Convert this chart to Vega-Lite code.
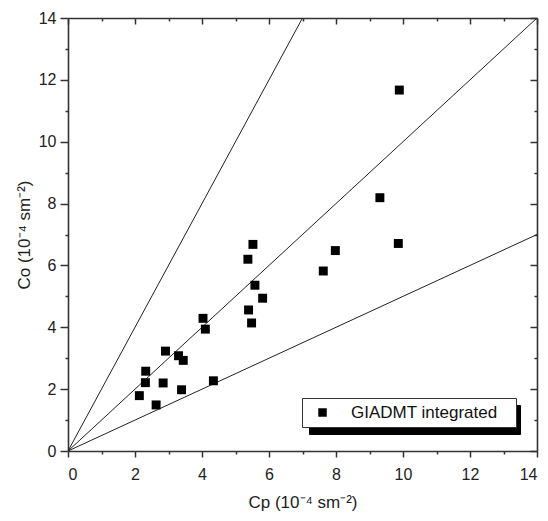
{
  "$schema": "https://vega.github.io/schema/vega-lite/v6.json",
  "width": 469,
  "height": 433,
  "autosize": {"type": "none"},
  "padding": {"left": 68, "top": 18, "right": 11, "bottom": 70},
  "background": "white",
  "config": {
    "view": {"stroke": null},
    "font": "Liberation Sans",
    "axis": {
      "grid": false,
      "domainColor": "#333333",
      "domainWidth": 1.6,
      "tickColor": "#333333",
      "tickWidth": 1.5,
      "labelFont": "Liberation Sans",
      "titleFont": "Liberation Sans",
      "labelFontSize": 16,
      "titleFontSize": 17,
      "titleFontWeight": "normal",
      "labelColor": "#222222",
      "titleColor": "#222222"
    }
  },
  "datasets": {
    "points": [
      {"cp": 2.13, "co": 1.79, "series": "GIADMT integrated"},
      {"cp": 2.31, "co": 2.21, "series": "GIADMT integrated"},
      {"cp": 2.32, "co": 2.58, "series": "GIADMT integrated"},
      {"cp": 2.63, "co": 1.49, "series": "GIADMT integrated"},
      {"cp": 2.84, "co": 2.2, "series": "GIADMT integrated"},
      {"cp": 2.91, "co": 3.23, "series": "GIADMT integrated"},
      {"cp": 3.3, "co": 3.08, "series": "GIADMT integrated"},
      {"cp": 3.44, "co": 2.93, "series": "GIADMT integrated"},
      {"cp": 3.39, "co": 1.98, "series": "GIADMT integrated"},
      {"cp": 4.03, "co": 4.29, "series": "GIADMT integrated"},
      {"cp": 4.1, "co": 3.94, "series": "GIADMT integrated"},
      {"cp": 4.34, "co": 2.27, "series": "GIADMT integrated"},
      {"cp": 5.52, "co": 6.68, "series": "GIADMT integrated"},
      {"cp": 5.37, "co": 6.2, "series": "GIADMT integrated"},
      {"cp": 5.58, "co": 5.36, "series": "GIADMT integrated"},
      {"cp": 5.81, "co": 4.94, "series": "GIADMT integrated"},
      {"cp": 5.39, "co": 4.56, "series": "GIADMT integrated"},
      {"cp": 5.48, "co": 4.14, "series": "GIADMT integrated"},
      {"cp": 7.98, "co": 6.48, "series": "GIADMT integrated"},
      {"cp": 7.62, "co": 5.82, "series": "GIADMT integrated"},
      {"cp": 9.31, "co": 8.19, "series": "GIADMT integrated"},
      {"cp": 9.86, "co": 6.71, "series": "GIADMT integrated"},
      {"cp": 9.89, "co": 11.67, "series": "GIADMT integrated"}
    ],
    "lines": [
      {"line": "2x", "cp": 0, "co": 0},
      {"line": "2x", "cp": 7, "co": 14},
      {"line": "1x", "cp": 0, "co": 0},
      {"line": "1x", "cp": 14, "co": 14},
      {"line": "0.5x", "cp": 0, "co": 0},
      {"line": "0.5x", "cp": 14, "co": 7}
    ]
  },
  "layer": [
    {
      "data": {"name": "lines"},
      "mark": {"type": "line", "color": "#222222", "strokeWidth": 1, "clip": true},
      "encoding": {
        "x": {
          "field": "cp", "type": "quantitative",
          "scale": {"domain": [0, 14], "nice": false},
          "axis": {
            "orient": "top", "title": null, "labels": false,
            "values": [0,1,2,3,4,5,6,7,8,9,10,11,12,13,14],
            "tickSize": {"condition": {"test": "datum.value % 2 === 0", "value": -6}, "value": -3}
          }
        },
        "y": {
          "field": "co", "type": "quantitative",
          "scale": {"domain": [0, 14], "nice": false},
          "axis": {
            "orient": "right", "title": null, "labels": false,
            "values": [0,1,2,3,4,5,6,7,8,9,10,11,12,13,14],
            "tickSize": {"condition": {"test": "datum.value % 2 === 0", "value": -7}, "value": -3}
          }
        },
        "detail": {"field": "line", "type": "nominal"}
      }
    },
    {
      "data": {"name": "points"},
      "mark": {"type": "point", "filled": true, "opacity": 1, "size": 80},
      "encoding": {
        "x": {
          "field": "cp", "type": "quantitative",
          "scale": {"domain": [0, 14], "nice": false},
          "axis": {
            "orient": "bottom", "title": "Cp (10⁻⁴ sm⁻²)",
            "values": [0,1,2,3,4,5,6,7,8,9,10,11,12,13,14],
            "labelExpr": "datum.value % 2 === 0 ? datum.label : ''",
            "tickSize": {"condition": {"test": "datum.value % 2 === 0", "value": 6}, "value": 3},
            "labelPadding": 9,
            "titlePadding": 12
          }
        },
        "y": {
          "field": "co", "type": "quantitative",
          "scale": {"domain": [0, 14], "nice": false},
          "axis": {
            "orient": "left", "title": "Co (10⁻⁴ sm⁻²)",
            "values": [0,1,2,3,4,5,6,7,8,9,10,11,12,13,14],
            "labelExpr": "datum.value % 2 === 0 ? datum.label : ''",
            "tickSize": {"condition": {"test": "datum.value % 2 === 0", "value": 8}, "value": 3},
            "labelPadding": 4,
            "titlePadding": 5
          }
        },
        "color": {
          "field": "series", "type": "nominal",
          "scale": {"range": ["#000000"]},
          "legend": {
            "title": null,
            "orient": "none",
            "legendX": 234,
            "legendY": 380,
            "zindex": 2,
            "strokeColor": "#333333",
            "fillColor": "white",
            "padding": 6,
            "symbolType": "square",
            "symbolSize": 72,
            "symbolOffset": 6,
            "labelFontSize": 17,
            "labelFont": "Liberation Sans",
            "labelColor": "#111111",
            "labelOffset": 20,
            "labelExpr": "datum.label + '\u2800'"
          }
        },
        "shape": {
          "field": "series", "type": "nominal",
          "scale": {"domain": ["GIADMT integrated"], "range": ["square"]},
          "legend": {
            "title": null,
            "orient": "none",
            "legendX": 241,
            "legendY": 387,
            "zindex": 1,
            "strokeColor": "#000000",
            "fillColor": "#000000",
            "padding": 6,
            "symbolFillColor": "#000000",
            "symbolStrokeColor": "#000000",
            "symbolSize": 72,
            "symbolOffset": 6,
            "labelFontSize": 17,
            "labelFont": "Liberation Sans",
            "labelColor": "#000000",
            "labelOffset": 176,
            "labelExpr": "''"
          }
        }
      }
    }
  ],
  "resolve": {"axis": {"x": "independent", "y": "independent"}}
}
